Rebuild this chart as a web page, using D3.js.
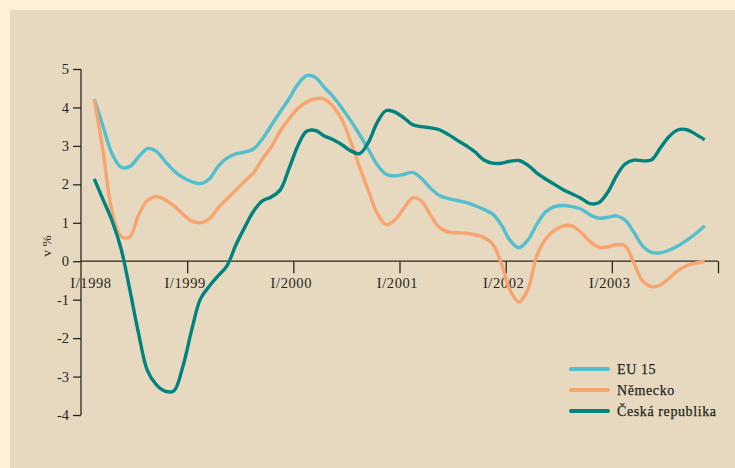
<!DOCTYPE html>
<html>
<head>
<meta charset="utf-8">
<script src="https://cdn.jsdelivr.net/npm/d3@7.9.0/dist/d3.min.js"></script>
<style>
  html, body { margin: 0; padding: 0; background: #fdf0d7; }
  svg { display: block; }
  text { font-family: "Liberation Serif", "Times New Roman", serif; fill: #2b2622; }
</style>
</head>
<body>
<svg id="chart" width="735" height="468"></svg>
<script>
// month offsets from January 1998 (mid-month samples)
const months = d3.range(70).map(i => 1.5 + i);

const eu15 = [
  4.22, 3.50, 2.80, 2.45, 2.46, 2.71, 2.93, 2.86, 2.60, 2.35,
  2.18, 2.07, 2.02, 2.14, 2.47, 2.68, 2.79, 2.84, 2.92, 3.18,
  3.53, 3.88, 4.22, 4.60, 4.83, 4.78, 4.52, 4.28, 3.98, 3.65,
  3.29, 2.90, 2.50, 2.26, 2.22, 2.26, 2.31, 2.15, 1.90, 1.71,
  1.63, 1.58, 1.53, 1.45, 1.35, 1.23, 0.95, 0.54, 0.35, 0.55,
  0.95, 1.28, 1.42, 1.45, 1.42, 1.36, 1.21, 1.12, 1.14, 1.18,
  1.07, 0.75, 0.39, 0.23, 0.22, 0.29, 0.40, 0.55, 0.72, 0.92
];

const nemecko = [
  4.22, 2.85, 1.30, 0.65, 0.63, 1.20, 1.58, 1.68, 1.60, 1.44,
  1.23, 1.05, 1.00, 1.10, 1.39, 1.62, 1.85, 2.08, 2.30, 2.66,
  2.97, 3.38, 3.70, 3.97, 4.14, 4.23, 4.22, 4.02, 3.68, 3.10,
  2.44, 1.83, 1.24, 0.95, 1.08, 1.38, 1.65, 1.56, 1.20, 0.88,
  0.76, 0.74, 0.73, 0.69, 0.62, 0.45, -0.05, -0.75, -1.06, -0.74,
  0.13, 0.57, 0.80, 0.92, 0.92, 0.75, 0.52, 0.37, 0.37, 0.43,
  0.40, -0.05, -0.52, -0.66, -0.62, -0.44, -0.24, -0.11, -0.05, 0.00
];

const ceskaRepublika = [
  2.14, 1.60, 1.06, 0.35, -0.72, -1.87, -2.84, -3.21, -3.38, -3.37,
  -2.75, -1.80, -0.98, -0.65, -0.38, -0.12, 0.42, 0.88, 1.30, 1.57,
  1.67, 1.85, 2.40, 3.00, 3.38, 3.40, 3.26, 3.16, 3.03, 2.87,
  2.80, 3.10, 3.62, 3.92, 3.88, 3.73, 3.55, 3.50, 3.47, 3.42,
  3.30, 3.15, 3.01, 2.85, 2.64, 2.55, 2.55, 2.60, 2.62, 2.50,
  2.30, 2.14, 2.00, 1.86, 1.75, 1.64, 1.50, 1.52, 1.78, 2.21,
  2.53, 2.63, 2.61, 2.64, 2.95, 3.25, 3.42, 3.42, 3.30, 3.16
];

const yearTicks = [0, 12, 24, 36, 48, 60, 72];
const yearLabels = ['I/1998', 'I/1999', 'I/2000', 'I/2001', 'I/2002', 'I/2003'];
const yTicks = [-4, -3, -2, -1, 0, 1, 2, 3, 4, 5];

const seriesNames = ['EU 15', 'Německo', 'Česká republika'];
const seriesColors = ['#52bfcf', '#f8a46e', '#00837f'];
const seriesValues = [eu15, nemecko, ceskaRepublika];

const svg = d3.select('#chart');
const W = 735, H = 468;

// inner beige panel
svg.append('rect')
  .attr('x', 10).attr('y', 10)
  .attr('width', W - 10).attr('height', H - 10)
  .attr('fill', '#e6d9c0');

const x = d3.scaleLinear().domain([0, 72]).range([81, 718]);
const y = d3.scaleLinear().domain([-4, 5]).range([415, 69]);

// y axis
const yAxis = svg.append('g')
  .attr('transform', `translate(${x(0)},0)`)
  .call(d3.axisLeft(y).tickValues(yTicks).tickSize(8).tickPadding(4)
    .tickFormat(d => d < 0 ? '-' + Math.abs(d) : d));
yAxis.select('.domain').attr('stroke', '#2b2622').attr('stroke-width', 1.3)
  .attr('d', `M0,${y(5)}V${y(-4)}`);
yAxis.selectAll('.tick line').attr('stroke', '#2b2622').attr('stroke-width', 1.3);
yAxis.selectAll('.tick text')
  .style('font-size', '14.5px').style('font-family', '"Liberation Serif", serif')
  .attr('fill', '#2b2622');

// x axis on the zero line
const xAxis = svg.append('g')
  .attr('transform', `translate(0,${y(0)})`)
  .call(d3.axisBottom(x).tickValues(yearTicks).tickSize(12).tickFormat(''));
xAxis.select('.domain').attr('stroke', '#2b2622').attr('stroke-width', 1.3)
  .attr('d', `M${x(0)},0H${x(72)}`);
xAxis.selectAll('.tick line').attr('stroke', '#2b2622').attr('stroke-width', 1.3);
xAxis.selectAll('.tick').filter(d => d === 0).select('line').remove();

svg.append('g').selectAll('text')
  .data(yearLabels)
  .join('text')
  .attr('x', (d, i) => i === 0 ? x(0) + 10 : x(yearTicks[i]) - 2)
  .attr('y', y(0) + 27)
  .attr('text-anchor', 'middle')
  .style('font-size', '14.5px')
  .style('letter-spacing', '0.6px')
  .text(d => d);

// y label
svg.append('text')
  .attr('transform', `translate(51,246) rotate(-90)`)
  .attr('text-anchor', 'middle')
  .style('font-size', '13.5px')
  .text('v %');

// lines
const line = d3.line()
  .x((d, i) => x(months[i]))
  .y(d => y(d))
  .curve(d3.curveCatmullRom.alpha(0.5));

svg.append('g').selectAll('path')
  .data(seriesValues)
  .join('path')
  .attr('d', d => line(d))
  .attr('fill', 'none')
  .attr('stroke', (d, i) => seriesColors[i])
  .attr('stroke-width', 3.4)
  .attr('stroke-linejoin', 'round')
  .attr('stroke-linecap', 'butt');

// legend
const legend = svg.append('g').attr('transform', 'translate(571,369)');
const item = legend.selectAll('g')
  .data(seriesNames)
  .join('g')
  .attr('transform', (d, i) => `translate(0,${i * 21})`);
item.append('line')
  .attr('x1', 0).attr('x2', 37)
  .attr('stroke', (d, i) => seriesColors[i])
  .attr('stroke-width', 4)
  .attr('stroke-linecap', 'round');
item.append('text')
  .attr('x', 46).attr('y', 5)
  .style('font-size', '14px')
  .style('letter-spacing', '0.6px')
  .attr('fill', '#221e1a')
  .attr('stroke', '#221e1a').attr('stroke-width', 0.25)
  .text(d => d);
</script>
</body>
</html>
